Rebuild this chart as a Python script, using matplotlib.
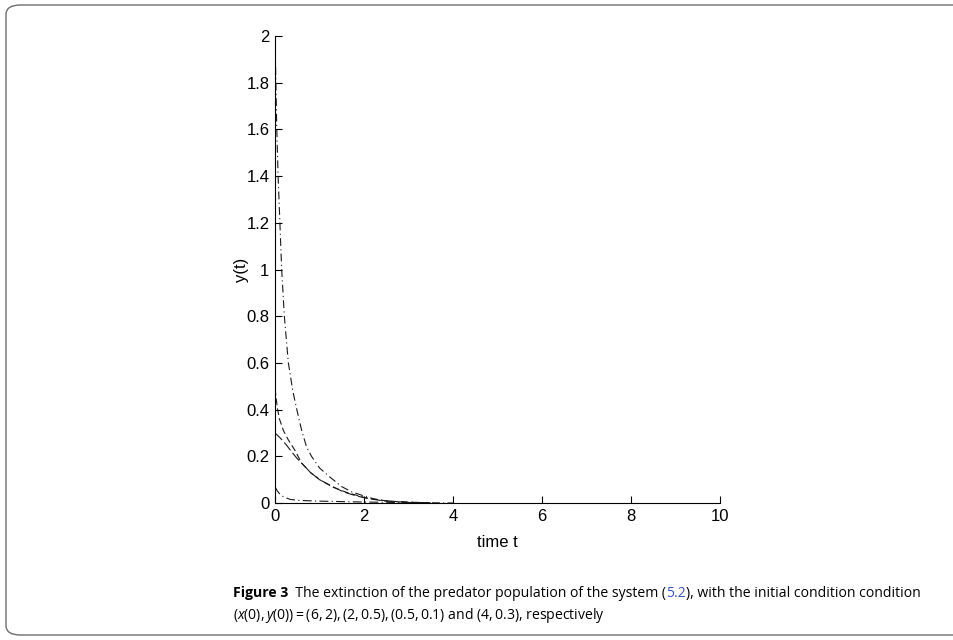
import numpy as np
import matplotlib.pyplot as plt
from matplotlib.patches import FancyBboxPatch

# predator y(t), one curve per initial condition
t_a = [0, 0.02, 0.04, 0.07, 0.11, 0.15, 0.21, 0.30, 0.40, 0.49, 0.60, 0.71, 0.82, 1.0,
       1.24, 1.5, 1.72, 2.0, 2.25, 2.6, 3.0, 3.5, 4.0]
y_a = [2.0, 1.8, 1.6, 1.4, 1.2, 1.0, 0.8, 0.6, 0.48, 0.4, 0.31, 0.24, 0.2, 0.15,
       0.11, 0.07, 0.048, 0.03, 0.016, 0.007, 0.003, 0.001, 0.0]

t_b = [0, 0.05, 0.1, 0.19, 0.3, 0.45, 0.6, 0.8, 1.0, 1.3, 1.6, 2.0, 2.5, 3.0, 3.5]
y_b = [0.49, 0.41, 0.36, 0.31, 0.27, 0.225, 0.17, 0.13, 0.1, 0.068, 0.046, 0.024, 0.009, 0.003, 0.001]

t_c = [0, 0.11, 0.25, 0.37, 0.5, 0.64, 0.8, 1.01, 1.3, 1.53, 1.8, 2.06, 2.4, 2.65, 3.0, 3.5]
y_c = [0.3, 0.28, 0.25, 0.22, 0.19, 0.163, 0.13, 0.099, 0.07, 0.048, 0.032, 0.02, 0.01, 0.006, 0.003, 0.001]

t_d = [0, 0.05, 0.1, 0.2, 0.35, 0.55, 1.0, 1.5, 2.0, 2.5, 3.0, 3.5]
y_d = [0.07, 0.052, 0.04, 0.025, 0.015, 0.011, 0.008, 0.006, 0.004, 0.003, 0.002, 0.001]

xticks = [0, 2, 4, 6, 8, 10]
yticks = [0, 0.2, 0.4, 0.6, 0.8, 1, 1.2, 1.4, 1.6, 1.8, 2]
ytick_labels = ['0', '0.2', '0.4', '0.6', '0.8', '1', '1.2', '1.4', '1.6', '1.8', '2']

plt.rcParams['font.family'] = ['Liberation Sans Narrow', 'Liberation Sans', 'DejaVu Sans']
plt.rcParams['mathtext.fontset'] = 'custom'
plt.rcParams['mathtext.rm'] = 'Open Sans'
plt.rcParams['mathtext.it'] = 'Open Sans:italic'

fig = plt.figure(figsize=(9.54, 6.4), dpi=100)

# rounded frame around figure + caption
box = FancyBboxPatch((6 / 954, 5 / 640), 1.2, 630 / 640,
                     boxstyle='round,pad=0,rounding_size=0.015',
                     transform=fig.transFigure, fill=False, ec='#6e6e6e', lw=1.0,
                     clip_on=True)
fig.patches.append(box)

ax = fig.add_axes([275 / 954, 1 - 503 / 640, 445 / 954, 467 / 640])
lw = 0.8
ax.plot(t_a, y_a, color='#1a1a1a', lw=lw, dashes=(7, 3, 1, 3))
ax.plot(t_b, y_b, color='#1a1a1a', lw=lw, dashes=(6, 3))
ax.plot(t_c, y_c, color='#1a1a1a', lw=lw, dashes=(9, 3))
ax.plot(t_d, y_d, color='#1a1a1a', lw=lw, dashes=(8, 3, 1, 3))

ax.set_xlim(0, 10)
ax.set_ylim(0, 2)
ax.set_xticks(xticks)
ax.set_yticks(yticks)
ax.set_yticklabels(ytick_labels)
ax.tick_params(direction='in', length=5, width=0.8, labelsize=12, pad=4)
ax.spines['top'].set_visible(False)
ax.spines['right'].set_visible(False)
ax.set_xlabel('time t', fontsize=12, labelpad=8)
ax.set_ylabel('y(t)', fontsize=12, labelpad=-2)

# caption, pieced together so the reference number can be blue
cap_font = 'Open Sans'
cap_size = 10.05
x0, y1, y2 = 233 / 954, 1 - 597 / 640, 1 - 619 / 640
fig.canvas.draw()
renderer = fig.canvas.get_renderer()

pieces = [('Figure 3', 'bold', 'black'),
          ('  The extinction of the predator population of the system (', 'normal', 'black'),
          ('5.2', 'normal', '#3a55c8'),
          ('), with the initial condition condition', 'normal', 'black')]
x = x0
for s, w, c in pieces:
    t = fig.text(x, y1, s, fontsize=cap_size, family=cap_font, weight=w, color=c,
                 ha='left', va='baseline')
    bb = t.get_window_extent(renderer)
    x = x + bb.width / fig.bbox.width

fig.text(x0, y2, r'$(x(0),y(0))=(6,2),(2,0.5),(0.5,0.1)$ and $(4,0.3)$, respectively',
         fontsize=cap_size, family=cap_font, ha='left', va='baseline')

fig.savefig('out.png', dpi=100)
